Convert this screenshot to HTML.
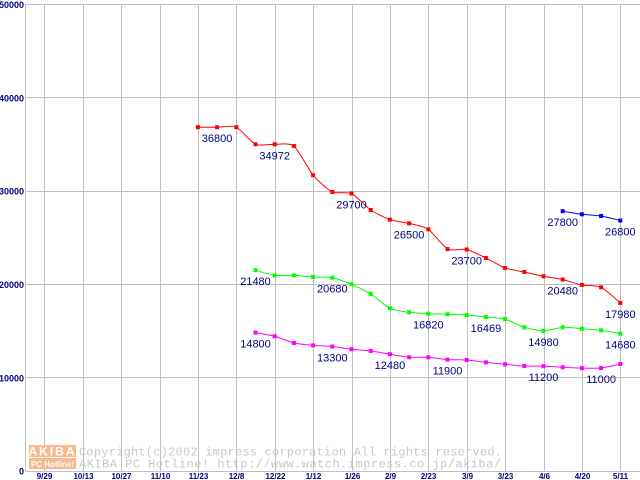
<!DOCTYPE html>
<html><head><meta charset="utf-8"><style>
html,body{margin:0;padding:0;background:#fff;}
svg{display:block;}
text{font-family:"Liberation Sans",sans-serif;}
</style></head><body>
<svg id="chart" width="640" height="480" xmlns="http://www.w3.org/2000/svg">
<g id="grid"></g>
<g id="watermark">
<rect x="29" y="445" width="47" height="12" fill="#f9b98c"/>
<text x="52.5" y="455.5" text-anchor="middle" font-size="12" fill="#fff" font-weight="bold" letter-spacing="2">AKIBA</text>
<rect x="29" y="458" width="47" height="11" fill="#f9b98c"/>
<text x="52.5" y="467" text-anchor="middle" font-size="8" fill="#fff" font-weight="bold">PC Hotline!</text>
<text x="79" y="455.5" font-size="12" fill="#c8c8c8" style="font-family:'Liberation Mono',monospace" textLength="423">Copyright(c)2002 impress corporation All rights reserved.</text>
<text x="79" y="467.5" font-size="12" fill="#c8c8c8" style="font-family:'Liberation Mono',monospace" textLength="422">AKIBA PC Hotline!  http://www.watch.impress.co.jp/akiba/</text>
</g>
<g id="axes"></g>
<g id="series"></g>
</svg>
<script>
const xLabels=["9/29","10/13","10/27","11/10","11/23","12/8","12/22","1/12","1/26","2/9","2/23","3/9","3/23","4/6","4/20","5/11"];
const yTicks=[0,10000,20000,30000,40000,50000];
const redStart=8;
const redValues=[36800,36800,36800,34972,34972,34790,31660,29860,29700,27930,26900,26500,25860,23750,23700,22790,21720,21290,20830,20480,19900,19650,17980];
const redLabels=[[9,"36800"],[12,"34972"],[16,"29700"],[19,"26500"],[22,"23700"],[27,"20480"],[30,"17980"]];
const greenStart=11;
const greenValues=[21480,20930,20930,20750,20680,19970,18930,17400,16970,16820,16760,16680,16469,16250,15360,14980,15360,15210,15040,14680];
const greenLabels=[[11,"21480"],[15,"20680"],[20,"16820"],[23,"16469"],[26,"14980"],[30,"14680"]];
const magentaStart=11;
const magentaValues=[14800,14400,13680,13430,13300,13010,12830,12480,12150,12150,11900,11860,11610,11400,11220,11200,11080,10990,11000,11430];
const magentaLabels=[[11,"14800"],[15,"13300"],[18,"12480"],[21,"11900"],[26,"11200"],[29,"11000"]];
const blueStart=27;
const blueValues=[27800,27470,27290,26800];
const blueLabels=[[27,"27800"],[30,"26800"]];

const NS="http://www.w3.org/2000/svg";
const X0=44.3, DX=19.2, Y0=470.7, KY=466.7/50000;
function xs(i){return X0+i*DX;}
function ys(v){return Y0-v*KY;}
function mk(tag,attrs,parent){const e=document.createElementNS(NS,tag);for(const k in attrs)e.setAttribute(k,attrs[k]);parent.appendChild(e);return e;}
const grid=document.getElementById('grid'),axes=document.getElementById('axes'),series=document.getElementById('series');
yTicks.forEach(v=>{
  const l=mk('line',{x1:25,x2:640,y1:Math.round(ys(v))+0.5,y2:Math.round(ys(v))+0.5,stroke:'#c0c0c0','stroke-width':1},grid);
  
  
  const t=mk('text',{x:24,y:ys(v)+4,'text-anchor':'end','font-size':9,'font-weight':'bold',fill:'#000080'},axes);
  t.textContent=String(v);
  
  
});
xLabels.forEach((lab,k)=>{
  const x=Math.round(xs(k*2))+0.5;
  const l=mk('line',{x1:x,x2:x,y1:4,y2:472,stroke:'#c0c0c0','stroke-width':1},grid);
  
  
  const t=mk('text',{x:x,y:479,'text-anchor':'middle','font-size':8,'font-weight':'bold',fill:'#000080'},axes);
  t.textContent=lab;
  
  
});
const ax=mk('line',{x1:25.5,x2:25.5,y1:4,y2:472,stroke:'#c0c0c0','stroke-width':1},axes);



function drawSeries(start,vals,labels,color,name){
  const g=mk('g',{},series);
  
  
  const pts=vals.map((v,i)=>[xs(start+i),ys(v)]);
  let d='M'+pts[0][0]+','+pts[0][1];
  for(let i=0;i<pts.length-1;i++){
    const p0=pts[Math.max(0,i-1)],p1=pts[i],p2=pts[i+1],p3=pts[Math.min(pts.length-1,i+2)];
    const c1=[p1[0]+(p2[0]-p0[0])/9,p1[1]+(p2[1]-p0[1])/9];
    const c2=[p2[0]-(p3[0]-p1[0])/9,p2[1]-(p3[1]-p1[1])/9];
    d+=' C'+c1+' '+c2+' '+p2;
  }
  const path=mk('path',{d:d,fill:'none',stroke:color,'stroke-width':1},g);
  
  
  pts.forEach(p=>{
    const r=mk('rect',{x:p[0]-2,y:p[1]-2,width:4,height:4,fill:color},g);
    
    
  });
  labels.forEach(([idx,txt])=>{
    const v=vals[idx-start];
    const t=mk('text',{x:xs(idx),y:ys(v)+15,'text-anchor':'middle','font-size':11,fill:'#000080'},g);
    t.textContent=txt;
    
    
  });
}
drawSeries(redStart,redValues,redLabels,'#ff0000','red');
drawSeries(greenStart,greenValues,greenLabels,'#00ff00','green');
drawSeries(magentaStart,magentaValues,magentaLabels,'#ff00ff','magenta');
drawSeries(blueStart,blueValues,blueLabels,'#0000ff','blue');
</script>
</body></html>
